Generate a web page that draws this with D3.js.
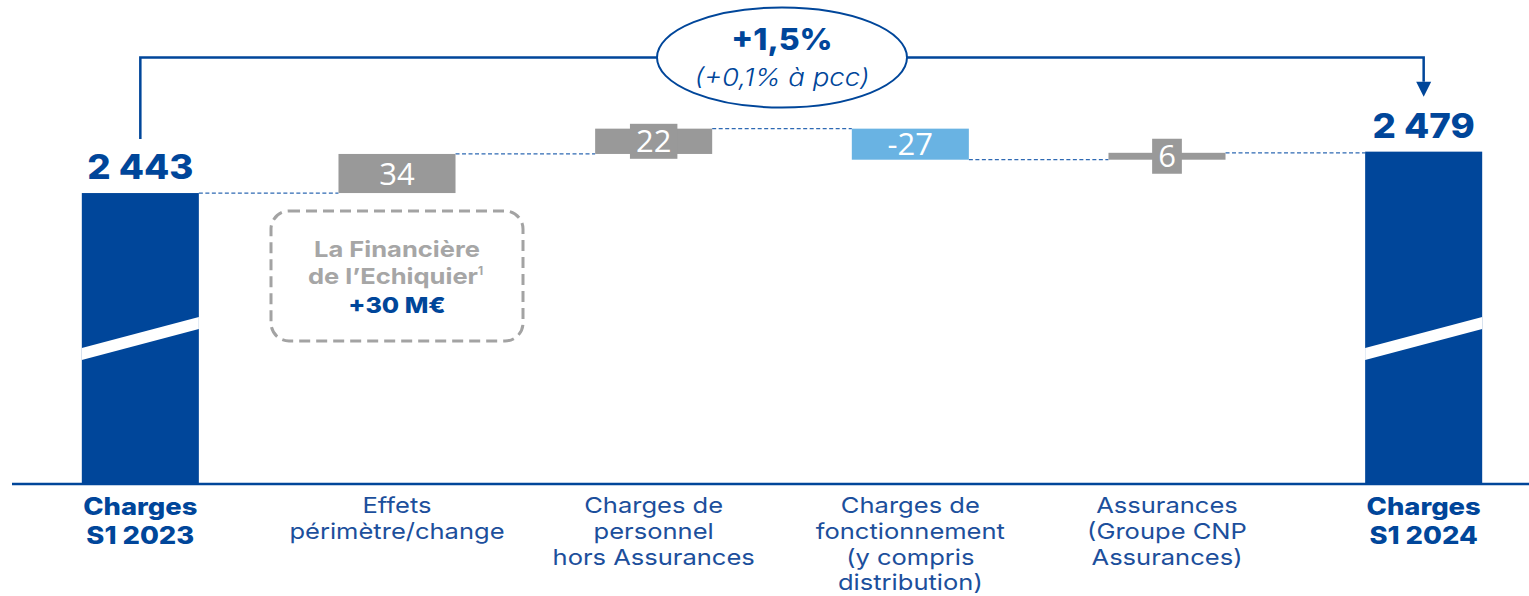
<!DOCTYPE html>
<html>
<head>
<meta charset="utf-8">
<script src="https://cdn.jsdelivr.net/npm/d3@7/dist/d3.min.js"></script>
<style>
  html, body { margin: 0; padding: 0; background: #ffffff; }
  svg { display: block; }
  text { font-family: Inter, "Open Sans", sans-serif; }
  text.num { font-family: "Open Sans", "Noto Sans", sans-serif; }
</style>
</head>
<body>
<svg id="chart" width="1529" height="596"></svg>
<script>
// ---------------- data ----------------
const categories = ["Charges S1 2023", "Effets périmètre/change", "Charges de personnel hors Assurances",
                    "Charges de fonctionnement (y compris distribution)", "Assurances (Groupe CNP Assurances)", "Charges S1 2024"];
const categoryLines = [
  ["Charges", "S1 2023"],
  ["Effets", "périmètre/change"],
  ["Charges de", "personnel", "hors Assurances"],
  ["Charges de", "fonctionnement", "(y compris", "distribution)"],
  ["Assurances", "(Groupe CNP", "Assurances)"],
  ["Charges", "S1 2024"]
];
const values = [2443, 34, 22, -27, 6, 2479];
const kinds = ["total", "delta", "delta", "delta", "delta", "total"];
const valueLabels = ["2 443", "34", "22", "-27", "6", "2 479"];
const growthMain = "+1,5%";
const growthSub = "(+0,1% à pcc)";
const noteLines = ["La Financière", "de l\u2019Echiquier"];
const noteSup = "1";
const noteValue = "+30 M€";

// ---------------- styles ----------------
const BLUE = "#00469a";
const TEXTBLUE = "#1c4f9c";
const GREY = "#999999";
const LIGHTBLUE = "#69b3e3";
const DASH = "#2e69b3";

const svg = d3.select("#chart");

// horizontal stretch to emulate the wide geometric typeface of the original
function stretch(sel, f) {
  const n = sel.node();
  const len = n.getComputedTextLength();
  sel.attr("textLength", len * f).attr("lengthAdjust", "spacingAndGlyphs");
  return sel;
}

const x = d3.scaleBand().domain(categories).range([12, 1552]).paddingInner(0.544).paddingOuter(0.272);
const y = d3.scaleLinear().domain([2190, 2500]).range([484, 127.5]);
const bw = x.bandwidth();

// waterfall geometry
let run = 0;
const bars = categories.map((c, i) => {
  let lo, hi;
  if (kinds[i] === "total") { lo = y.domain()[0]; hi = values[i]; run = values[i]; }
  else { const start = run; run = run + values[i]; lo = Math.min(start, run); hi = Math.max(start, run); }
  return { cat: c, i, lo, hi, end: run, v: values[i], kind: kinds[i] };
});

const fill = d => d.kind === "total" ? BLUE : (d.v < 0 ? LIGHTBLUE : GREY);

// connectors
const conn = svg.append("g");
for (let i = 0; i < bars.length - 1; i++) {
  const yy = y(bars[i].end);
  conn.append("line")
    .attr("x1", x(bars[i].cat) + bw).attr("x2", x(bars[i + 1].cat))
    .attr("y1", yy).attr("y2", yy)
    .attr("stroke", DASH).attr("stroke-width", 1.2).attr("stroke-dasharray", "4 2.5");
}

// bars
svg.append("g").selectAll("rect").data(bars).join("rect")
  .attr("x", d => x(d.cat)).attr("width", bw)
  .attr("y", d => y(d.hi)).attr("height", d => y(d.lo) - y(d.hi))
  .attr("fill", fill);

// break marks on totals
bars.filter(d => d.kind === "total").forEach(d => {
  const x0 = x(d.cat), x1 = x0 + bw;
  const yl = 348, drop = 31, th = 12;
  svg.append("polygon")
    .attr("points", [[x0, yl], [x1, yl - drop], [x1, yl - drop + th], [x0, yl + th]].map(p => p.join(",")).join(" "))
    .attr("fill", "#ffffff");
});

// axis line
svg.append("line").attr("x1", 12).attr("x2", 1529).attr("y1", 484).attr("y2", 484)
  .attr("stroke", BLUE).attr("stroke-width", 2.5);

// delta labels
const lblFont = 31;
bars.filter(d => d.kind === "delta").forEach(d => {
  const cx = x(d.cat) + bw / 2;
  const cy = (y(d.lo) + y(d.hi)) / 2;
  const g = svg.append("g");
  const t = g.append("text").attr("class", "num").attr("x", cx).attr("y", cy + lblFont * 0.36)
    .attr("text-anchor", "middle").attr("font-size", lblFont).attr("font-weight", 400)
    .attr("fill", "#ffffff").text(valueLabels[d.i]);
  const bb = t.node().getBBox();
  const boxH = 35;
  if (y(d.lo) - y(d.hi) < 28) {
    g.insert("rect", "text").attr("x", bb.x - 6).attr("width", bb.width + 12)
      .attr("y", cy - boxH / 2).attr("height", boxH).attr("fill", fill(d));
  }
});

// total labels
bars.filter(d => d.kind === "total").forEach(d => {
  stretch(svg.append("text").attr("x", x(d.cat) + bw / 2).attr("y", y(d.hi) - 14)
    .attr("text-anchor", "middle").attr("font-size", 34).attr("font-weight", 800)
    .attr("fill", BLUE).text(valueLabels[d.i]), 1.08);
});

// category labels
bars.forEach(d => {
  const bold = d.kind === "total";
  categoryLines[d.i].forEach((ln, k) => {
    const t = svg.append("text").attr("text-anchor", "middle")
      .attr("font-size", bold ? 24 : 22).attr("font-weight", bold ? 800 : 400)
      .attr("fill", bold ? BLUE : TEXTBLUE)
      .attr("x", x(d.cat) + bw / 2).attr("y", (bold ? 515 : 513) + k * (bold ? 29 : 25.8)).text(ln);
    stretch(t, bold ? 1.14 : 1.16);
  });
});

// growth bracket
const xa = x(categories[0]) + bw / 2, xb = x(categories[5]) + bw / 2;
const yTop = 57.5;
svg.append("path")
  .attr("d", `M${xa},${y(values[0]) - 54} V${yTop} H${xb} V${y(values[5]) - 70}`)
  .attr("fill", "none").attr("stroke", BLUE).attr("stroke-width", 2.5);
const tipY = y(values[5]) - 55;
svg.append("path")
  .attr("d", `M${xb - 7.5},${tipY - 15} L${xb + 7.5},${tipY - 15} L${xb},${tipY} Z`)
  .attr("fill", BLUE);

svg.append("ellipse").attr("cx", 782).attr("cy", yTop).attr("rx", 125).attr("ry", 50)
  .attr("fill", "#ffffff").attr("stroke", BLUE).attr("stroke-width", 2);
stretch(svg.append("text").attr("x", 782).attr("y", 50).attr("text-anchor", "middle")
  .attr("font-size", 30).attr("font-weight", 800).attr("fill", BLUE).text(growthMain), 1.07);
stretch(svg.append("text").attr("x", 782).attr("y", 86).attr("text-anchor", "middle")
  .attr("font-size", 24).attr("font-style", "italic").attr("font-weight", 300).attr("fill", BLUE).text(growthSub), 1.15);

// note box
const nx = x(categories[1]) + bw / 2;
svg.append("rect").attr("x", 271).attr("y", 211).attr("width", 252).attr("height", 130)
  .attr("rx", 18).attr("fill", "none").attr("stroke", "#a3a3a3").attr("stroke-width", 3)
  .attr("stroke-dasharray", "11 6");
stretch(svg.append("text").attr("x", nx).attr("y", 257).attr("text-anchor", "middle")
  .attr("font-size", 22).attr("font-weight", 700).attr("fill", "#a6a6a6").text(noteLines[0]), 1.16);
const t2 = svg.append("text").attr("x", nx - 4).attr("y", 284).attr("text-anchor", "middle")
  .attr("font-size", 22).attr("font-weight", 700).attr("fill", "#a6a6a6").text(noteLines[1]);
stretch(t2, 1.16);
const t2bb = t2.node().getBBox();
svg.append("text").attr("x", t2bb.x + t2bb.width).attr("y", 275)
  .attr("font-size", 12).attr("font-weight", 700).attr("fill", "#a6a6a6").text(noteSup);
stretch(svg.append("text").attr("x", nx).attr("y", 313).attr("text-anchor", "middle")
  .attr("font-size", 22).attr("font-weight", 800).attr("fill", BLUE).text(noteValue), 1.14);
</script>
</body>
</html>
